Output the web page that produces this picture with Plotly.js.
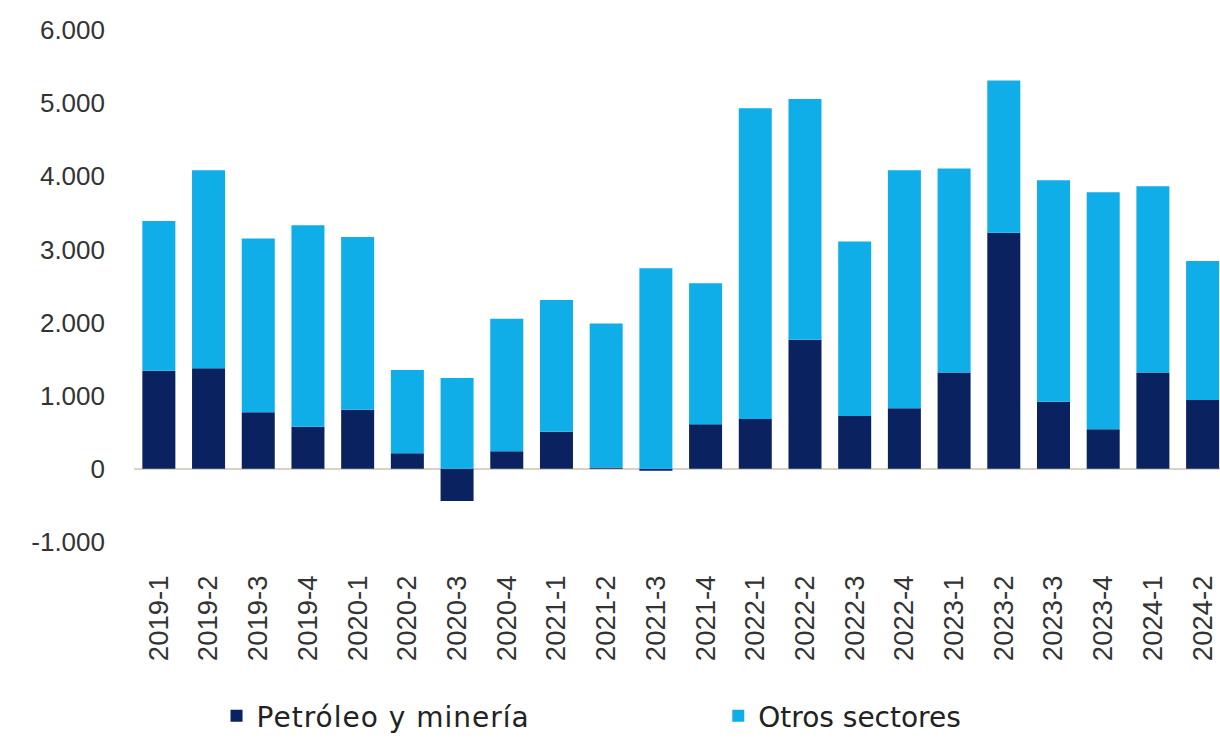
<!DOCTYPE html>
<html>
<head>
<meta charset="utf-8">
<script src="https://cdn.plot.ly/plotly-3.0.1.min.js"></script>
<style>html,body{margin:0;padding:0;background:#fff;}#chart{width:1220px;height:741px;} .legendtext{letter-spacing:1px;}</style>
</head>
<body>
<div id="chart"></div>
<script>
const categories = ["2019-1","2019-2","2019-3","2019-4","2020-1","2020-2","2020-3","2020-4","2021-1","2021-2","2021-3","2021-4","2022-1","2022-2","2022-3","2022-4","2023-1","2023-2","2023-3","2023-4","2024-1","2024-2"];
const petroleoMineria = [1341,1374,773,577,809,214,-441,241,509,20,-25,610,682,1764,723,828,1319,3229,918,541,1319,941];
const otrosSectores = [2046,2709,2378,2752,2360,1137,1241,1810,1801,1968,2742,1928,4247,3293,2387,3255,2787,2082,3029,3242,2546,1901];
const yTickValues = [-1000,0,1000,2000,3000,4000,5000,6000];
const yTickLabels = ["-1.000","0","1.000","2.000","3.000","4.000","5.000","6.000"];

const tickFamily = "Liberation Sans, Arial, sans-serif";
const legendFamily = "DejaVu Sans, sans-serif";
const data = [
  {type:"bar", name:"Petróleo y minería", x:categories, y:petroleoMineria, marker:{color:"#0B2260"}, legend:"legend"},
  {type:"bar", name:"Otros sectores", x:categories, y:otrosSectores, marker:{color:"#0FAEE9"}, legend:"legend2"}
];
const legendCommon = {orientation:"h", xanchor:"left", y:-0.34, yanchor:"middle", itemwidth:30,
  font:{size:28, color:"#222222", family:legendFamily}, bgcolor:"rgba(0,0,0,0)"};
const layout = {
  width:1220, height:741,
  margin:{l:134, r:0, t:30, b:198, pad:0},
  paper_bgcolor:"#ffffff", plot_bgcolor:"#ffffff",
  barmode:"relative", bargap:0.336,
  font:{family:tickFamily, color:"#333333"},
  showlegend:true,
  legend:Object.assign({}, legendCommon, {x:0.076}),
  legend2:Object.assign({}, legendCommon, {x:0.538}),
  xaxis:{type:"category", range:[-0.5,21.35], tickangle:-90, showgrid:false, showline:false, automargin:false,
         ticks:"", ticklabelstandoff:27, tickfont:{size:27.5, color:"#333333", family:tickFamily}},
  yaxis:{range:[-1000,6000], tickvals:yTickValues, ticktext:yTickLabels, showgrid:false, showline:false, automargin:false,
         zeroline:true, zerolinecolor:"#d8d2c8", zerolinewidth:1.5, ticks:"", ticklabelstandoff:28,
         tickfont:{size:26, color:"#333333", family:tickFamily}}
};
Plotly.newPlot("chart", data, layout, {displayModeBar:false, staticPlot:true});
</script>
</body>
</html>
